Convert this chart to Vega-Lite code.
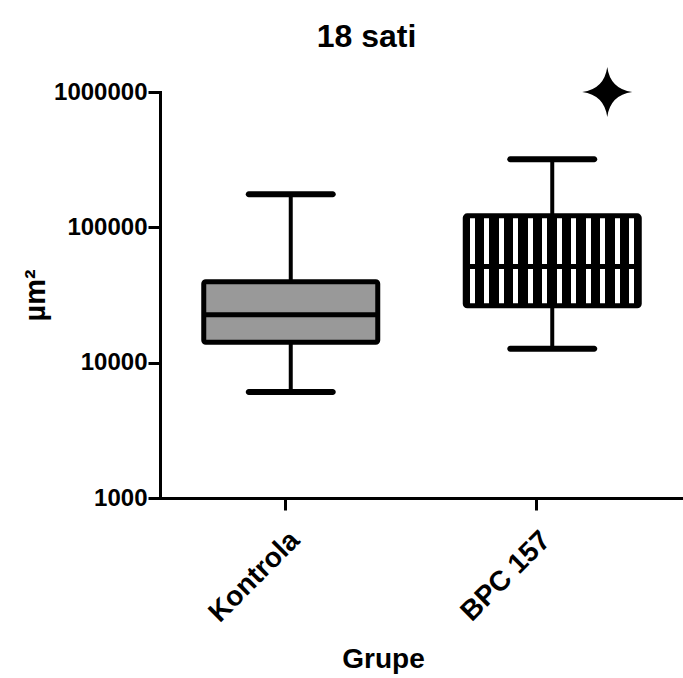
{
  "$schema": "https://vega.github.io/schema/vega-lite/v6.json",
  "autosize": "none",
  "padding": {"left": 160, "top": 92, "right": 0, "bottom": 180},
  "width": 523,
  "height": 406,
  "background": "white",
  "title": {"text": "18 sati", "fontSize": 32, "fontWeight": "bold", "font": "Liberation Sans", "color": "black", "dx": -55, "offset": -12, "baseline": "alphabetic", "frame": "group"},
  "config": {
    "view": {"stroke": null},
    "axis": {"domainColor": "black", "domainWidth": 3, "tickColor": "black", "tickWidth": 3, "tickSize": 12, "labelFont": "Liberation Sans", "labelFontWeight": "bold", "labelFontSize": 24, "labelColor": "black", "titleFont": "Liberation Sans", "titleFontWeight": "bold", "titleColor": "black", "grid": false, "domainCap": "square"}
  },
  "data": {"values": [
    {"group": "Kontrola", "min": 6080, "q1": 14160, "median": 22600, "q3": 39700, "max": 175700},
    {"group": "BPC 157", "min": 12690, "q1": 26360, "median": 51400, "q3": 121600, "max": 318500}
  ]},
  "layer": [
    {
      "encoding": {
        "x": {"field": "group", "type": "nominal", "sort": ["Kontrola", "BPC 157"], "scale": {"domain": ["Kontrola", "BPC 157"], "paddingInner": 0, "paddingOuter": 0}, "axis": null}
      },
      "layer": [
        {
          "mark": {"type": "rule", "color": "black", "strokeWidth": 4},
          "encoding": {
            "y": {"field": "min", "type": "quantitative", "title": "µm²", "scale": {"type": "log", "domain": [1000, 1000000]}, "axis": {"values": [1000, 10000, 100000, 1000000], "format": "d", "titleFontSize": 29, "titlePadding": 3, "labelPadding": 1}},
            "y2": {"field": "q1", "title": "µm²"}
          }
        },
        {
          "mark": {"type": "rule", "color": "black", "strokeWidth": 4},
          "encoding": {
            "y": {"field": "q3", "type": "quantitative", "title": "µm²"},
            "y2": {"field": "max", "title": "µm²"}
          }
        },
        {
          "mark": {"type": "tick", "color": "black", "thickness": 6, "size": 90, "cornerRadius": 3, "opacity": 1},
          "encoding": {"y": {"field": "min", "type": "quantitative", "title": "µm²"}}
        },
        {
          "mark": {"type": "tick", "color": "black", "thickness": 6, "size": 90, "cornerRadius": 3, "opacity": 1},
          "encoding": {"y": {"field": "max", "type": "quantitative", "title": "µm²"}}
        },
        {
          "transform": [{"filter": "datum.group === 'Kontrola'"}],
          "mark": {"type": "bar", "size": 174, "fill": "#999999", "stroke": "black", "strokeWidth": 5, "cornerRadius": 2, "opacity": 1},
          "encoding": {
            "y": {"field": "q1", "type": "quantitative", "title": "µm²"},
            "y2": {"field": "q3", "title": "µm²"}
          }
        },
        {
          "transform": [{"filter": "datum.group === 'BPC 157'"}],
          "mark": {"type": "bar", "size": 174, "stroke": "black", "strokeWidth": 5, "cornerRadius": 2, "opacity": 1,
            "fill": {"gradient": "linear", "x1": 0, "y1": 0, "x2": 1, "y2": 0, "stops": [
              {"offset": 0, "color": "black"},
              {"offset": 0.025, "color": "black"}, {"offset": 0.025, "color": "white"}, {"offset": 0.0542, "color": "white"}, {"offset": 0.0542, "color": "black"},
              {"offset": 0.1083, "color": "black"}, {"offset": 0.1083, "color": "white"}, {"offset": 0.1375, "color": "white"}, {"offset": 0.1375, "color": "black"},
              {"offset": 0.1917, "color": "black"}, {"offset": 0.1917, "color": "white"}, {"offset": 0.2208, "color": "white"}, {"offset": 0.2208, "color": "black"},
              {"offset": 0.275, "color": "black"}, {"offset": 0.275, "color": "white"}, {"offset": 0.3042, "color": "white"}, {"offset": 0.3042, "color": "black"},
              {"offset": 0.3583, "color": "black"}, {"offset": 0.3583, "color": "white"}, {"offset": 0.3875, "color": "white"}, {"offset": 0.3875, "color": "black"},
              {"offset": 0.4417, "color": "black"}, {"offset": 0.4417, "color": "white"}, {"offset": 0.4708, "color": "white"}, {"offset": 0.4708, "color": "black"},
              {"offset": 0.525, "color": "black"}, {"offset": 0.525, "color": "white"}, {"offset": 0.5542, "color": "white"}, {"offset": 0.5542, "color": "black"},
              {"offset": 0.6083, "color": "black"}, {"offset": 0.6083, "color": "white"}, {"offset": 0.6375, "color": "white"}, {"offset": 0.6375, "color": "black"},
              {"offset": 0.6917, "color": "black"}, {"offset": 0.6917, "color": "white"}, {"offset": 0.7208, "color": "white"}, {"offset": 0.7208, "color": "black"},
              {"offset": 0.775, "color": "black"}, {"offset": 0.775, "color": "white"}, {"offset": 0.8042, "color": "white"}, {"offset": 0.8042, "color": "black"},
              {"offset": 0.8583, "color": "black"}, {"offset": 0.8583, "color": "white"}, {"offset": 0.8875, "color": "white"}, {"offset": 0.8875, "color": "black"},
              {"offset": 0.9417, "color": "black"}, {"offset": 0.9417, "color": "white"}, {"offset": 0.9708, "color": "white"}, {"offset": 0.9708, "color": "black"},
              {"offset": 1, "color": "black"}
            ]}},
          "encoding": {
            "y": {"field": "q1", "type": "quantitative", "title": "µm²"},
            "y2": {"field": "q3", "title": "µm²"}
          }
        },
        {
          "mark": {"type": "tick", "color": "black", "thickness": 5, "size": 174, "opacity": 1},
          "encoding": {"y": {"field": "median", "type": "quantitative", "title": "µm²"}}
        },
        {
          "data": {"values": [{"group": "BPC 157", "marker": 1000000}]},
          "mark": {"type": "point", "filled": true, "color": "black", "opacity": 1, "size": 2500, "xOffset": 55,
            "shape": "M0,-1 Q0.12,-0.12 1,0 Q0.12,0.12 0,1 Q-0.12,0.12 -1,0 Q-0.12,-0.12 0,-1 Z"},
          "encoding": {"y": {"field": "marker", "type": "quantitative", "title": "µm²"}}
        }
      ]
    },
    {
      "mark": {"type": "tick", "opacity": 0},
      "encoding": {
        "x": {"field": "group", "type": "nominal", "sort": ["Kontrola", "BPC 157"], "scale": {"domain": ["Kontrola", "BPC 157"], "paddingInner": 0, "paddingOuter": 0.0418, "align": 0},
          "axis": {"orient": "bottom", "labelAngle": -45, "labelFontSize": 28, "title": "Grupe", "titleFontSize": 28, "titleX": 223, "titleY": 169, "titleBaseline": "alphabetic", "titleAnchor": "middle", "labelPadding": 16}}
      }
    }
  ],
  "resolve": {"scale": {"x": "independent"}, "axis": {"x": "independent"}}
}
